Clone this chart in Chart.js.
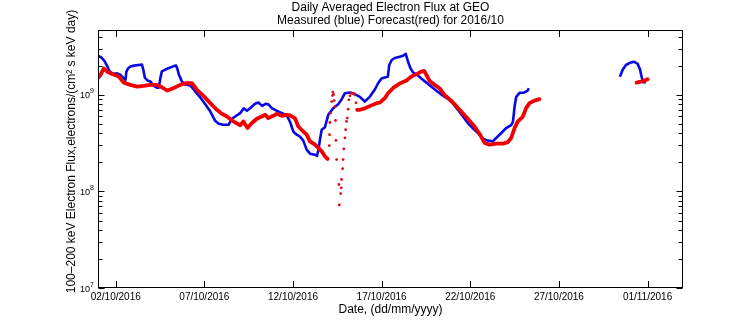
<!DOCTYPE html>
<html>
<head>
<meta charset="utf-8">
<title>Daily Averaged Electron Flux at GEO</title>
<script src="https://cdn.jsdelivr.net/npm/chart.js@4.4.1/dist/chart.umd.min.js"></script>
<style>
  html, body { margin: 0; padding: 0; background: #fff; }
  #wrap { width: 756px; height: 324px; }
</style>
</head>
<body>
<div id="wrap"><canvas id="fluxChart" width="756" height="324"></canvas></div>
<script>
// time axis: days since 01/10/2016 00:00
const dateTicks = [1, 6, 11, 16, 21, 26, 31];
const dateLabels = ['02/10/2016', '07/10/2016', '12/10/2016', '17/10/2016', '22/10/2016', '27/10/2016', '01/11/2016'];
const decadeTicks = [1e7, 1e8, 1e9];
const decadeExponents = ['7', '8', '9'];

// measured flux (null = no data)
const blueDays = [0.00, 0.20, 0.37, 0.52, 0.62, 0.73, 0.90, 1.07, 1.24, 1.43, 1.55, 1.60, 1.69, 1.83, 2.03, 2.28, 2.48,
  2.56, 2.64, 2.79, 2.95, 3.12, 3.32, 3.43, 3.52, 3.60, 3.80, 4.08, 4.39, 4.47, 4.56, 4.73, 4.92, 5.21, 5.40, 5.54,
  5.77, 6.05, 6.33, 6.61, 6.81, 7.06, 7.36, 7.55, 7.74, 8.02, 8.22, 8.40, 8.58, 8.86, 9.05, 9.26, 9.45, 9.61, 9.82,
  10.10, 10.38, 10.65, 10.83, 11.02, 11.21, 11.40, 11.58, 11.77, 11.96, 12.24, 12.35, 12.44, 12.52, 12.62, 12.80,
  12.99, 13.27, 13.55, 13.74, 13.93, 14.21, 14.49, 14.77, 15.05, 15.33, 15.61, 15.80, 15.99, 16.18, 16.35, 16.43,
  16.57, 16.74, 17.02, 17.21, 17.36, 17.49, 17.63, 17.77, 18.05, 18.33, 18.62, 18.90, 19.18, 19.46, 19.74, 20.02,
  20.30, 20.59, 20.87, 21.15, 21.43, 21.71, 21.99, 22.27, 22.46, 22.75, 23.03, 23.31, 23.41, 23.50, 23.59, 23.78,
  24.06, 24.24, 24.30, 26.00,
  29.44, 29.59, 29.78, 30.06, 30.25, 30.43, 30.57, 30.68, 30.77, 30.91];
const blueFlux = [2.55e9, 2.43e9, 2.24e9, 1.99e9, 1.79e9, 1.71e9, 1.65e9, 1.67e9, 1.63e9, 1.50e9, 1.43e9, 1.73e9, 1.88e9,
  1.97e9, 2.01e9, 2.04e9, 2.06e9, 1.81e9, 1.51e9, 1.41e9, 1.38e9, 1.25e9, 1.19e9, 1.19e9, 1.50e9, 1.75e9, 1.83e9,
  1.92e9, 2.02e9, 1.88e9, 1.63e9, 1.38e9, 1.28e9, 1.25e9, 1.14e9, 1.05e9, 9.42e8, 7.98e8, 6.76e8, 5.39e8, 5.02e8,
  4.90e8, 4.90e8, 5.66e8, 5.98e8, 6.47e8, 7.26e8, 6.84e8, 7.26e8, 8.08e8, 8.33e8, 7.70e8, 8.08e8, 7.98e8, 7.26e8,
  6.84e8, 6.47e8, 6.14e8, 5.27e8, 4.16e8, 3.87e8, 3.69e8, 3.36e8, 2.71e8, 2.46e8, 2.40e8, 2.33e8, 2.71e8, 3.44e8,
  4.36e8, 4.62e8, 6.22e8, 7.26e8, 7.98e8, 8.99e8, 1.04e9, 1.06e9, 1.02e9, 9.54e8, 8.53e8, 9.54e8, 1.13e9, 1.32e9,
  1.48e9, 1.51e9, 1.55e9, 2.04e9, 2.30e9, 2.41e9, 2.48e9, 2.54e9, 2.66e9, 2.20e9, 1.88e9, 1.71e9, 1.59e9, 1.43e9,
  1.30e9, 1.18e9, 1.07e9, 9.84e8, 9.09e8, 8.17e8, 7.01e8, 5.97e8, 5.08e8, 4.51e8, 4.03e8, 3.52e8, 3.36e8, 3.30e8,
  3.58e8, 4.03e8, 4.54e8, 4.85e8, 5.31e8, 7.58e8, 9.54e8, 1.05e9, 1.06e9, 1.11e9, 1.17e9, null,
  1.54e9, 1.81e9, 2.04e9, 2.17e9, 2.20e9, 2.11e9, 1.85e9, 1.50e9, 1.35e9, 1.35e9];

// forecast flux, continuous stretches
const redDays = [0.00, 0.14, 0.33, 0.52, 0.80, 1.17, 1.45, 1.83, 2.21, 2.58, 2.95, 3.33, 3.61, 3.89, 4.08, 4.36, 4.64,
  4.92, 5.30, 5.58, 5.95, 6.33, 6.71, 6.95, 7.27, 7.64, 8.02, 8.20, 8.43, 8.68, 8.96, 9.24, 9.43, 9.61, 9.89, 10.08,
  10.37, 10.65, 10.83, 11.11, 11.30, 11.58, 11.77, 11.96, 12.24, 12.43, 12.62, 12.80, 12.95, 13.50,
  14.62, 14.77, 15.05, 15.43, 15.71, 15.90, 16.18, 16.36, 16.65, 17.02, 17.40, 17.68, 17.96, 18.24, 18.40, 18.53,
  18.71, 18.99, 19.27, 19.55, 19.84, 20.12, 20.40, 20.68, 20.96, 21.24, 21.52, 21.81, 22.09, 22.46, 22.84, 23.12,
  23.31, 23.50, 23.68, 23.96, 24.15, 24.34, 24.62, 24.90, 27.00,
  30.38, 30.62, 30.81, 31.00];
const redFlux = [1.49e9, 1.61e9, 1.88e9, 1.74e9, 1.65e9, 1.55e9, 1.34e9, 1.27e9, 1.22e9, 1.24e9, 1.27e9, 1.27e9, 1.20e9,
  1.11e9, 1.14e9, 1.20e9, 1.27e9, 1.32e9, 1.32e9, 1.13e9, 9.77e8, 8.21e8, 7.01e8, 6.45e8, 5.97e8, 5.31e8, 4.85e8,
  5.31e8, 4.54e8, 5.11e8, 5.66e8, 5.97e8, 6.22e8, 5.75e8, 6.07e8, 6.37e8, 6.07e8, 6.22e8, 6.14e8, 5.73e8, 4.71e8,
  4.18e8, 3.87e8, 3.30e8, 3.05e8, 2.82e8, 2.60e8, 2.31e8, 2.17e8, null,
  7.01e8, 7.01e8, 7.26e8, 7.79e8, 8.21e8, 8.30e8, 9.25e8, 1.04e9, 1.18e9, 1.31e9, 1.41e9, 1.55e9, 1.64e9, 1.74e9,
  1.77e9, 1.61e9, 1.39e9, 1.27e9, 1.17e9, 1.00e9, 8.99e8, 7.98e8, 7.01e8, 6.14e8, 5.40e8, 4.71e8, 3.96e8, 3.18e8,
  3.05e8, 3.13e8, 3.13e8, 3.24e8, 3.58e8, 4.54e8, 5.31e8, 5.93e8, 7.29e8, 8.21e8, 8.73e8, 9.03e8, null,
  1.34e9, 1.37e9, 1.40e9, 1.45e9];

// forecast samples around the 13-14/10 jump, drawn as separate dots
const redDotDays = [13.05, 13.06, 13.08, 13.12, 13.18, 13.23, 13.25, 13.29, 13.32, 13.37, 13.40, 13.42, 13.46, 13.59,
  13.61, 13.69, 13.72, 13.74, 13.80, 13.83, 13.87, 13.93, 13.97, 14.02, 14.06, 14.11, 14.15, 14.21, 14.30, 14.40,
  14.49, 14.55, 14.62];
const redDotFlux = [2.98e8, 3.87e8, 5.18e8, 6.48e8, 8.53e8, 9.83e8, 1.07e9, 1.01e9, 8.73e8, 7.58e8, 5.43e8, 3.38e8,
  2.14e8, 1.18e8, 7.25e7, 9.50e7, 1.09e8, 1.33e8, 1.72e8, 2.14e8, 2.76e8, 3.58e8, 4.36e8, 5.31e8, 5.75e8, 7.12e8,
  8.88e8, 9.77e8, 1.04e9, 1.04e9, 1.00e9, 8.27e8, 7.01e8];

const Y_MIN = 1e7, Y_MAX = 4.7e9;
const BLUE = 'rgb(8,8,228)';
const RED = 'rgb(240,0,0)';
const FONT = '"Liberation Sans", Arial, Helvetica, sans-serif';

function toPoints(days, flux) {
  return days.map((d, i) => ({ x: d, y: flux[i] }));
}

// minor log ticks 2..9 in each decade, up to the top of the axis
const minorTicks = [];
decadeTicks.forEach(dec => {
  for (let m = 2; m <= 9; m++) if (dec * m <= Y_MAX) minorTicks.push(dec * m);
});

// box, inward ticks on all four sides, and all text
const axesFrame = {
  id: 'axesFrame',
  afterDraw(chart) {
    const { ctx, chartArea: a, scales: { x, y } } = chart;
    const L = Math.round(a.left) + 0.5, R = Math.round(a.right) - 0.5;
    const T = Math.round(a.top) + 0.5, B = Math.round(a.bottom) - 0.5;
    ctx.save();
    ctx.strokeStyle = '#000';
    ctx.lineWidth = 1;
    ctx.strokeRect(L, T, R - L, B - T);
    ctx.beginPath();
    dateTicks.forEach(d => {
      const px = Math.round(x.getPixelForValue(d)) + 0.5;
      ctx.moveTo(px, B); ctx.lineTo(px, B - 6.5);
      ctx.moveTo(px, T); ctx.lineTo(px, T + 6.5);
    });
    const yTick = (v, len) => {
      const py = Math.round(y.getPixelForValue(v)) + 0.5;
      ctx.moveTo(L, py); ctx.lineTo(L + len, py);
      ctx.moveTo(R, py); ctx.lineTo(R - len, py);
    };
    decadeTicks.forEach(v => yTick(v, 6));
    minorTicks.forEach(v => yTick(v, 4));
    ctx.stroke();

    ctx.fillStyle = '#000';
    ctx.textBaseline = 'alphabetic';

    // date labels
    ctx.font = '10px ' + FONT;
    ctx.textAlign = 'center';
    dateTicks.forEach((d, i) => ctx.fillText(dateLabels[i], x.getPixelForValue(d), B + 12.5));

    // 10^n labels
    decadeTicks.forEach((v, i) => {
      const py = y.getPixelForValue(v);
      ctx.font = '9px ' + FONT;
      ctx.textAlign = 'right';
      ctx.fillText('10', L - 8.5, py + 3.5);
      ctx.font = '7px ' + FONT;
      ctx.textAlign = 'left';
      ctx.fillText(decadeExponents[i], L - 8.5, py - 1.5);
    });

    // titles
    const cx = (a.left + a.right) / 2;
    ctx.font = '12px ' + FONT;
    ctx.textAlign = 'center';
    ctx.fillText('Daily Averaged Electron Flux at GEO', cx, 11);
    ctx.fillText('Measured (blue) Forecast(red) for 2016/10', cx, 24);
    ctx.fillText('Date, (dd/mm/yyyy)', cx, 313);

    ctx.translate(75, 151.5);
    ctx.rotate(-Math.PI / 2);
    ctx.fillText('100\u2013200 keV Electron Flux,electrons/(cm\u00b2 s keV day)', 0, 0);
    ctx.restore();
  }
};

new Chart(document.getElementById('fluxChart'), {
  type: 'line',
  data: {
    datasets: [
      { data: toPoints(redDays, redFlux), borderColor: RED, borderWidth: 3.8, pointRadius: 0, tension: 0, spanGaps: false,
        borderJoinStyle: 'round', borderCapStyle: 'round' },
      { data: toPoints(redDotDays, redDotFlux), showLine: false, pointRadius: 1.4, pointBorderWidth: 0,
        pointBackgroundColor: 'rgb(225,10,25)' },
      { data: toPoints(blueDays, blueFlux), borderColor: BLUE, borderWidth: 2.6, pointRadius: 0, tension: 0, spanGaps: false,
        borderJoinStyle: 'round' }
    ]
  },
  options: {
    responsive: false,
    animation: false,
    devicePixelRatio: 1,
    layout: { padding: { top: 30, right: 73, left: 0, bottom: 0 } },
    plugins: { legend: { display: false }, tooltip: { enabled: false } },
    scales: {
      x: {
        type: 'linear', min: 0, max: 33,
        ticks: { display: false }, grid: { display: false }, border: { display: false },
        afterFit(s) { s.height = 36; }
      },
      y: {
        type: 'logarithmic', min: Y_MIN, max: Y_MAX,
        ticks: { display: false }, grid: { display: false }, border: { display: false },
        afterFit(s) { s.width = 98; }
      }
    }
  },
  plugins: [axesFrame]
});
</script>
</body>
</html>
